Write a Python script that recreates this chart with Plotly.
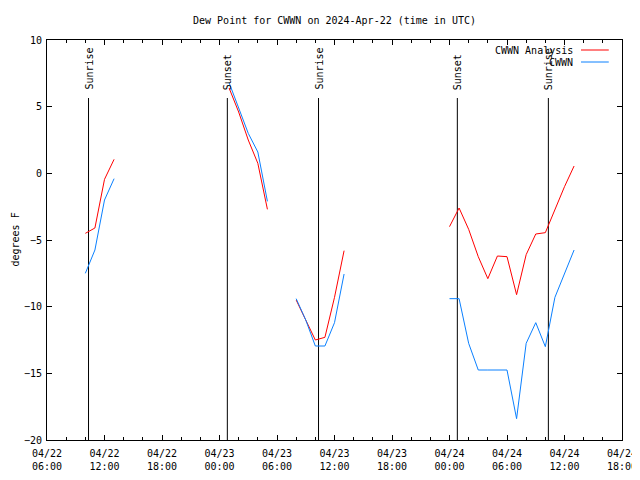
import plotly.graph_objects as go

# ---------------- data ----------------
times = [
    "2024-04-22 10:00", "2024-04-22 11:00", "2024-04-22 12:00", "2024-04-22 13:00",
    "2024-04-22 14:00",
    "2024-04-23 01:00", "2024-04-23 02:00", "2024-04-23 03:00", "2024-04-23 04:00", "2024-04-23 05:00",
    "2024-04-23 06:00",
    "2024-04-23 08:00", "2024-04-23 09:00", "2024-04-23 10:00", "2024-04-23 11:00", "2024-04-23 12:00", "2024-04-23 13:00",
    "2024-04-23 14:00",
    "2024-04-24 00:00", "2024-04-24 01:00", "2024-04-24 02:00", "2024-04-24 03:00", "2024-04-24 04:00",
    "2024-04-24 05:00", "2024-04-24 06:00", "2024-04-24 07:00", "2024-04-24 08:00", "2024-04-24 09:00",
    "2024-04-24 10:00", "2024-04-24 11:00", "2024-04-24 12:00", "2024-04-24 13:00",
]
analysis_values = [
    -4.5, -4.1, -0.45, 1.05,
    None,
    6.4, 4.6, 2.5, 0.75, -2.7,
    None,
    -9.5, -11.0, -12.5, -12.3, -9.3, -5.8,
    None,
    -4.0, -2.6, -4.2, -6.25, -7.9, -6.2, -6.25, -9.1, -6.1, -4.55, -4.45, -2.75, -1.0, 0.55,
]
station_values = [
    -7.5, -5.75, -2.0, -0.4,
    None,
    6.8, 4.9, 3.0, 1.6, -2.1,
    None,
    -9.4, -11.0, -12.95, -12.95, -11.2, -7.55,
    None,
    -9.4, -9.4, -12.75, -14.75, -14.75, -14.75, -14.75, -18.4, -12.75, -11.2, -13.0, -9.3, -7.5, -5.75,
]

sun_times = ["2024-04-22 10:20", "2024-04-23 00:49", "2024-04-23 10:20", "2024-04-24 00:49", "2024-04-24 10:19"]
sun_labels = ["Sunrise", "Sunset", "Sunrise", "Sunset", "Sunrise"]
sun_line_top = 5.65
sun_label_base = 6.1

x_tick_vals = [
    "2024-04-22 06:00", "2024-04-22 12:00", "2024-04-22 18:00",
    "2024-04-23 00:00", "2024-04-23 06:00", "2024-04-23 12:00", "2024-04-23 18:00",
    "2024-04-24 00:00", "2024-04-24 06:00", "2024-04-24 12:00", "2024-04-24 18:00",
]
x_tick_text = [
    "04/22<br>06:00", "04/22<br>12:00", "04/22<br>18:00",
    "04/23<br>00:00", "04/23<br>06:00", "04/23<br>12:00", "04/23<br>18:00",
    "04/24<br>00:00", "04/24<br>06:00", "04/24<br>12:00", "04/24<br>18:00",
]
y_tick_vals = [-20, -15, -10, -5, 0, 5, 10]

series_names = ["CWWN Analysis", "CWWN"]
series_colors = ["#ff0000", "#0a80ff"]

FONT = "DejaVu Sans Mono"

# ---------------- figure ----------------
fig = go.Figure()
for name, vals, col in zip(series_names, [analysis_values, station_values], series_colors):
    fig.add_trace(go.Scatter(x=times, y=vals, mode="lines", name=name,
                             line=dict(color=col, width=1), connectgaps=False,
                             showlegend=False))

for t, lab in zip(sun_times, sun_labels):
    fig.add_shape(type="line", xref="x", yref="y", x0=t, x1=t, y0=-20, y1=sun_line_top,
                  line=dict(color="black", width=1), layer="below")
    fig.add_annotation(x=t, y=sun_label_base, xref="x", yref="y", text=lab,
                       textangle=-90, showarrow=False, xanchor="center", yanchor="bottom",
                       font=dict(family=FONT, size=10, color="black"))

# manual gnuplot-style legend (text then line)
legend_rows = [0.975, 0.945]
for name, col, yr in zip(series_names, series_colors, legend_rows):
    fig.add_annotation(x=0.918, y=yr, xref="paper", yref="paper", text=name,
                       showarrow=False, xanchor="right", yanchor="middle",
                       font=dict(family=FONT, size=10, color="black"))
    fig.add_shape(type="line", xref="paper", yref="paper", x0=0.9287, x1=0.977,
                  y0=yr, y1=yr, line=dict(color=col, width=1))

# y axis label (left edge of the figure)
fig.add_annotation(x=-39 / 575, y=0.5, xref="paper", yref="paper", text="degrees F",
                   textangle=-90, showarrow=False, xanchor="left", yanchor="middle",
                   borderpad=0,
                   font=dict(family=FONT, size=10, color="black"))

# page body has an 8px default margin, so the figure is 632x472 placed at (8,8)
fig.update_layout(
    width=632, height=472,
    margin=dict(l=39, r=18, t=32, b=40, autoexpand=False),
    paper_bgcolor="white", plot_bgcolor="white",
    font=dict(family=FONT, size=10, color="black"),
    title=dict(text="Dew Point for CWWN on 2024-Apr-22 (time in UTC)",
               x=0.5, xanchor="center", xref="paper",
               y=1 - 12 / 472, yanchor="middle", yref="container",
               font=dict(family=FONT, size=10, color="black")),
    showlegend=False,
)
fig.update_xaxes(
    type="date", range=["2024-04-22 06:00", "2024-04-24 18:00"],
    tickmode="array", tickvals=x_tick_vals, ticktext=x_tick_text,
    ticks="inside", ticklen=5, tickcolor="black", tickwidth=1,
    ticklabelstandoff=4,
    minor=dict(dtick=2 * 3600 * 1000, ticks="inside", ticklen=3, tickcolor="black",
               showgrid=False),
    showline=True, linecolor="black", linewidth=1, mirror="ticks",
    showgrid=False, zeroline=False, automargin=False,
    tickfont=dict(family=FONT, size=10, color="black"),
)
fig.update_yaxes(
    range=[-20, 10], tickmode="array", tickvals=y_tick_vals,
    ticks="inside", ticklen=5, tickcolor="black", tickwidth=1,
    ticklabelstandoff=2,
    showline=True, linecolor="black", linewidth=1, mirror="ticks",
    showgrid=False, zeroline=False, automargin=False,
    tickfont=dict(family=FONT, size=10, color="black"),
)

fig.write_html("out.html")
